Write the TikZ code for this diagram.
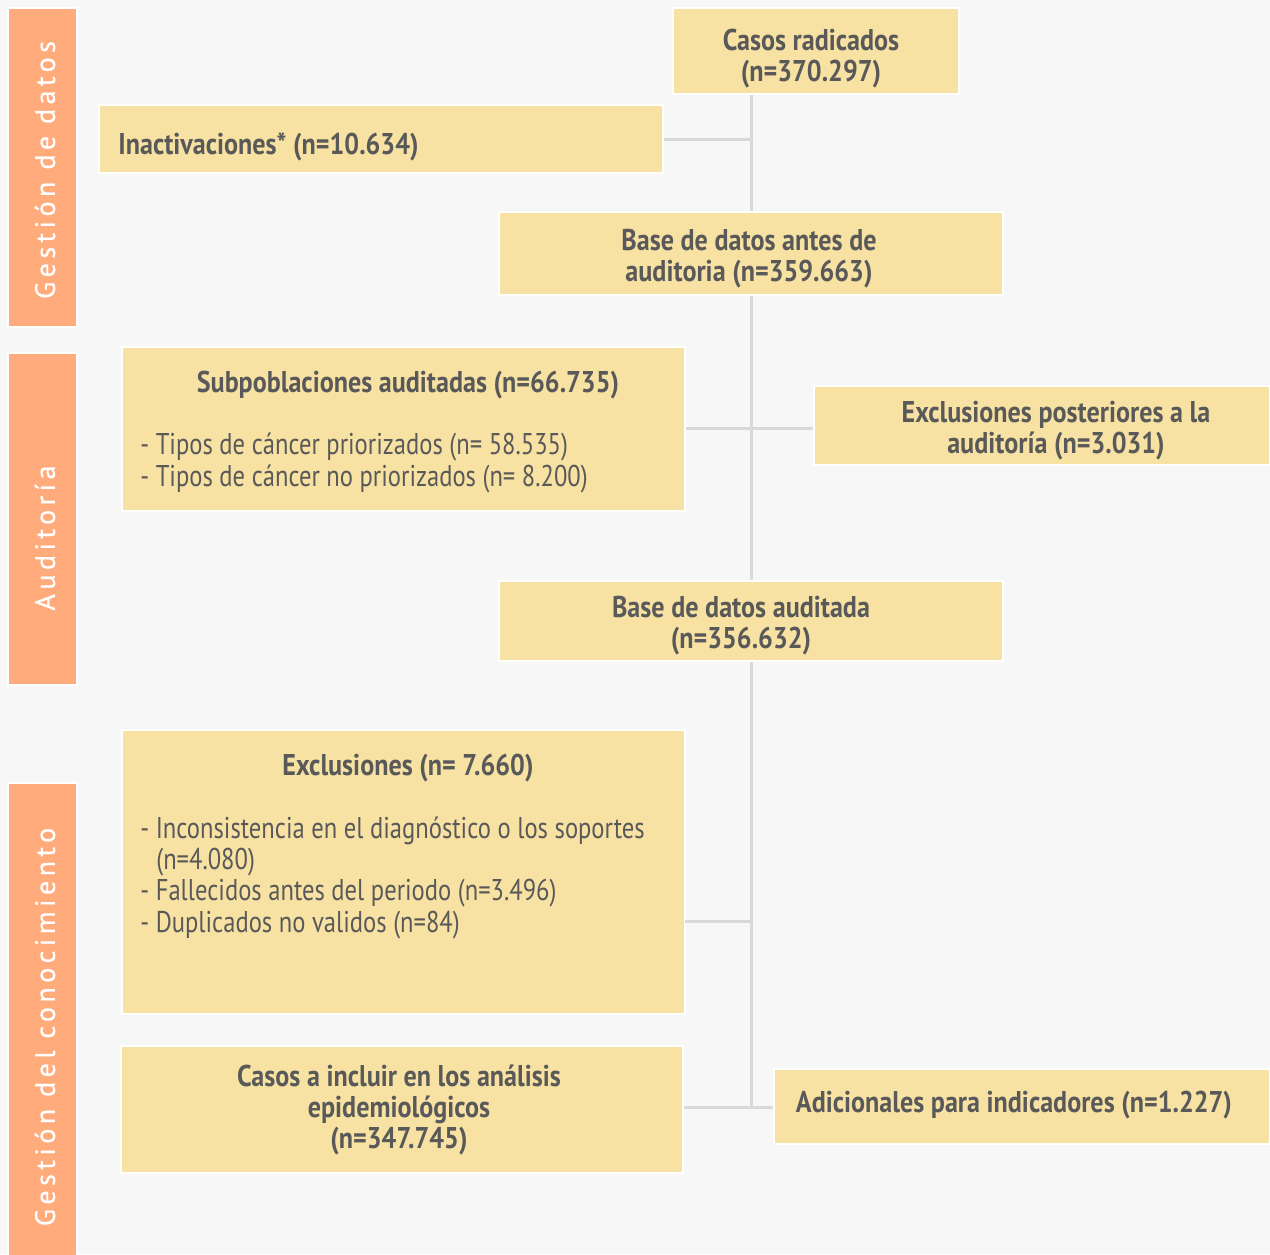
\documentclass[tikz,border=0pt]{standalone}
\usepackage{fontspec}
\setmainfont{PT Sans}[FakeStretch=0.82, BoldFeatures={FakeStretch=0.87}]
\newfontfamily\sidefont{PT Sans}[LetterSpace=16, FakeBold=0.6]
\definecolor{bg}{HTML}{F7F7F7}
\definecolor{boxc}{HTML}{F7E2A3}
\definecolor{sidec}{HTML}{FFAB7B}
\definecolor{linec}{HTML}{D9D9D9}
\definecolor{txt}{HTML}{595959}
\tikzset{
  box/.style={fill=boxc, draw=white, line width=0.75pt, inner sep=0pt},
  sidebar/.style={fill=sidec, draw=white, line width=0.75pt},
  sidelabel/.style={text=white, font=\sidefont\fontsize{14pt}{15pt}\selectfont, rotate=90, inner sep=0pt},
  conn/.style={draw=linec, line width=1.5pt},
  hd/.style={text=txt, font=\fontsize{15pt}{15.5pt}\selectfont\bfseries, inner sep=0pt},
  body/.style={text=txt, font=\fontsize{15pt}{15.65pt}\selectfont, inner sep=0pt, align=left, anchor=base west},
}
\begin{document}
\begin{tikzpicture}[x=0.5pt,y=-0.5pt]
\fill[bg] (0,0) rectangle (1270,1254);
\useasboundingbox (0,0) rectangle (1270,1254);
% side bars
\draw[sidebar] (8,8) rectangle (77,327);
\draw[sidebar] (8,353) rectangle (77,685);
\draw[sidebar] (8,783) rectangle (77,1260);
\node[sidelabel] (s1) at (45,170) {Gestión de datos};
\node[sidelabel] (s2) at (45,538) {Auditoría};
\node[sidelabel] (s3) at (45,1027) {Gestión del conocimiento};
% boxes
\node[box, minimum width=143pt, minimum height=43pt] (casos) at (816,51) {};
\node[box, minimum width=282pt, minimum height=34pt] (inact) at (381,139) {};
\node[box, minimum width=252pt, minimum height=41.5pt] (base1) at (751,253.5) {};
\node[box, minimum width=281.5pt, minimum height=82pt] (subp) at (403.5,429) {};
\node[box, minimum width=228pt, minimum height=39.5pt] (post) at (1042,425.5) {};
\node[box, minimum width=252pt, minimum height=40pt] (base2) at (751,621) {};
\node[box, minimum width=281.5pt, minimum height=142pt] (excl) at (403.5,872) {};
\node[box, minimum width=281pt, minimum height=63.5pt] (incl) at (402,1109.5) {};
\node[box, minimum width=248pt, minimum height=37.5pt] (adic) at (1022,1106.5) {};
% texts
\node[hd, align=center] (casosT) at (811,59) {Casos radicados\\(n=370.297)};
\node[hd, anchor=west] (inactT) at (118,147) {Inactivaciones* (n=10.634)};
\node[hd, align=center] (base1T) at (749,259) {Base de datos antes de\\auditoria (n=359.663)};
\node[hd, align=center] (postT) at (1056,431) {Exclusiones posteriores a la\\auditoría (n=3.031)};
\node[hd, align=center] (base2T) at (741,626) {Base de datos auditada\\(n=356.632)};
\node[hd, align=center] (inclT) at (399,1110) {Casos a incluir en los análisis\\epidemiológicos\\(n=347.745)};
\node[hd] (adicT) at (1014,1105) {Adicionales para indicadores (n=1.227)};
\node[hd] (subpT) at (408,385) {Subpoblaciones auditadas (n=66.735)};
\node[body] (subpL) at (140,486) {- Tipos de cáncer priorizados (n= 58.535)\\- Tipos de cáncer no priorizados (n= 8.200)};
\node[hd] (exclT) at (408,768) {Exclusiones (n= 7.660)};
\node[body] (exclL) at (140,932) {- Inconsistencia en el diagnóstico o los soportes\\\hspace*{8pt}(n=4.080)\\- Fallecidos antes del periodo (n=3.496)\\- Duplicados no validos (n=84)};
% connectors
\coordinate (jend) at (751,1107);
\coordinate (exclP) at (685,921);
\draw[conn] (casos.south -| base1.north) -- (base1.north);
\draw[conn] (base1.south) -- (base2.north);
\draw[conn] (base2.south) -- (jend);
\draw[conn] (inact.east) -- (inact.east -| base1.north);
\draw[conn] (subp.east |- 0,428) -- (post.west |- 0,428);
\draw[conn] (exclP) -- (exclP -| base2.south);
\draw[conn] (incl.east |- jend) -- (adic.west |- jend);
\end{tikzpicture}
\end{document}
